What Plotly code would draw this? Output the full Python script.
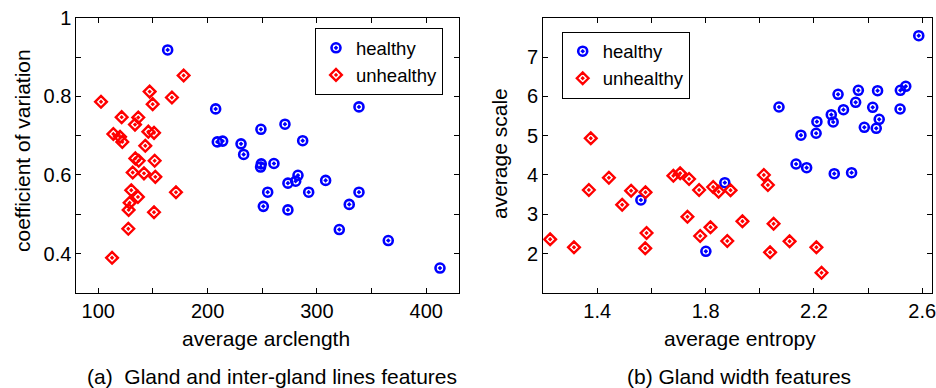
import plotly.graph_objects as go

# ---- Data: (a) Gland and inter-gland lines features ----
a_healthy_arclength = [163.5, 207.4, 338.5, 270.8, 248.8, 208.9, 213.8, 230.6, 287.0, 233.0,
                       249.1, 248.5, 260.7, 282.7, 280.6, 273.5, 308.0, 255.0, 292.5, 338.5,
                       329.6, 251.0, 273.5, 320.5, 365.3, 412.6]
a_healthy_cv = [0.918, 0.768, 0.773, 0.729, 0.716, 0.684, 0.686, 0.679, 0.687, 0.652,
                0.628, 0.620, 0.629, 0.599, 0.584, 0.579, 0.586, 0.556, 0.556, 0.556,
                0.525, 0.520, 0.511, 0.461, 0.433, 0.363]
a_unhealthy_arclength = [178.1, 147.0, 167.4, 102.5, 149.8, 121.4, 136.6, 133.6, 113.8, 119.9,
                         122.0, 145.8, 151.0, 143.0, 133.9, 137.0, 151.6, 131.5, 141.8, 152.2,
                         130.2, 136.3, 171.1, 128.7, 127.8, 151.0, 127.5, 112.6]
a_unhealthy_cv = [0.853, 0.812, 0.797, 0.786, 0.780, 0.747, 0.746, 0.728, 0.704, 0.697,
                  0.684, 0.710, 0.707, 0.674, 0.642, 0.636, 0.636, 0.606, 0.604, 0.595,
                  0.561, 0.544, 0.556, 0.529, 0.511, 0.505, 0.463, 0.389]

# ---- Data: (b) Gland width features ----
b_healthy_entropy = [1.561, 1.801, 1.871, 2.071, 2.134, 2.173, 2.275, 2.339, 2.152, 2.208,
                     2.211, 2.264, 2.271, 2.289, 2.309, 2.354, 2.364, 2.386, 2.417, 2.430,
                     2.435, 2.441, 2.518, 2.519, 2.539, 2.587]
b_healthy_scale = [3.361, 2.056, 3.802, 5.728, 4.277, 4.183, 4.031, 4.056, 5.010, 5.060,
                   5.354, 5.532, 5.346, 6.051, 5.659, 5.847, 6.153, 5.211, 5.720, 5.186,
                   6.143, 5.415, 5.677, 6.153, 6.254, 7.542]
b_unhealthy_entropy = [1.226, 1.314, 1.369, 1.376, 1.443, 1.492, 1.525, 1.578, 1.582, 1.577,
                       1.681, 1.706, 1.733, 1.739, 1.776, 1.780, 1.818, 1.828, 1.848, 1.880,
                       1.892, 1.936, 2.015, 2.030, 2.051, 2.038, 2.110, 2.209, 2.228]
b_unhealthy_scale = [2.361, 2.158, 3.616, 4.931, 3.929, 3.242, 3.598, 3.557, 2.522, 2.132,
                     3.980, 4.041, 2.936, 3.896, 3.616, 2.445, 2.667, 3.692, 3.573, 2.318,
                     3.608, 2.819, 3.997, 3.743, 2.758, 2.030, 2.310, 2.158, 1.511]

# ---- Tick definitions ----
a_xticks = [100, 150, 200, 250, 300, 350, 400]
a_xlabels = ["100", "", "200", "", "300", "", "400"]
a_yticks = [0.3, 0.4, 0.5, 0.6, 0.7, 0.8, 0.9, 1.0]
a_ylabels = ["", "0.4", "", "0.6", "", "0.8", "", "1"]
b_xticks = [1.4, 1.6, 1.8, 2.0, 2.2, 2.4, 2.6]
b_xlabels = ["1.4", "", "1.8", "", "2.2", "", "2.6"]
b_yticks = [2, 3, 4, 5, 6, 7]
b_ylabels = ["2", "3", "4", "5", "6", "7"]

W, H = 936, 388
FONT = "Liberation Sans, Arial, Helvetica, sans-serif"
BLUE = "#0000ff"
RED = "#ff0000"

fig = go.Figure()

def healthy_marker():
    return dict(symbol="circle-open-dot", size=9, color=BLUE, line=dict(color=BLUE, width=2.6))

def unhealthy_marker():
    return dict(symbol="diamond-open-dot", size=9, color=RED, line=dict(color=RED, width=2.4))

fig.add_trace(go.Scatter(x=a_healthy_arclength, y=a_healthy_cv, mode="markers", name="healthy",
                         marker=healthy_marker(), xaxis="x", yaxis="y", legend="legend"))
fig.add_trace(go.Scatter(x=a_unhealthy_arclength, y=a_unhealthy_cv, mode="markers", name="unhealthy",
                         marker=unhealthy_marker(), xaxis="x", yaxis="y", legend="legend"))
fig.add_trace(go.Scatter(x=b_healthy_entropy, y=b_healthy_scale, mode="markers", name="healthy",
                         marker=healthy_marker(), xaxis="x2", yaxis="y2", legend="legend2"))
fig.add_trace(go.Scatter(x=b_unhealthy_entropy, y=b_unhealthy_scale, mode="markers", name="unhealthy",
                         marker=unhealthy_marker(), xaxis="x2", yaxis="y2", legend="legend2"))

ydom = [1 - 292.8 / H, 1 - 17.7 / H]
axis_common = dict(showline=True, linecolor="black", linewidth=1, mirror="ticks",
                   ticks="inside", ticklen=5, tickwidth=1, tickcolor="black",
                   showgrid=False, zeroline=False, tickmode="array", automargin=False,
                   ticklabeloverflow="allow",
                   tickfont=dict(family=FONT, size=20, color="black"))

fig.update_layout(
    width=W, height=H, autosize=False,
    margin=dict(l=0, r=0, t=0, b=0, pad=0, autoexpand=False),
    paper_bgcolor="white", plot_bgcolor="white",
    font=dict(family=FONT, color="black"),
    xaxis=dict(domain=[76.4 / W, 459.0 / W], range=[80, 430], anchor="y",
               tickvals=a_xticks, ticktext=a_xlabels, **axis_common),
    yaxis=dict(domain=ydom, range=[0.3, 1.0], anchor="x",
               tickvals=a_yticks, ticktext=a_ylabels, **axis_common),
    xaxis2=dict(domain=[543.1 / W, 932.3 / W], range=[1.2, 2.637], anchor="y2",
                tickvals=b_xticks, ticktext=b_xlabels, **axis_common),
    yaxis2=dict(domain=ydom, range=[1, 8], anchor="x2",
                tickvals=b_yticks, ticktext=b_ylabels, **axis_common),
    legend=dict(x=315 / W, y=1 - 28.3 / H, xanchor="left", yanchor="top",
                bgcolor="white", bordercolor="black", borderwidth=1,
                font=dict(family=FONT, size=18.5, color="black"),
                itemwidth=30, tracegroupgap=0),
    legend2=dict(x=561.7 / W, y=1 - 31.7 / H, xanchor="left", yanchor="top",
                 bgcolor="white", bordercolor="black", borderwidth=1,
                 font=dict(family=FONT, size=18.5, color="black"),
                 itemwidth=30, tracegroupgap=0),
    showlegend=True,
)

def ann(text, px, py, angle=0, size=21):
    fig.add_annotation(text=text, xref="paper", yref="paper", x=px / W, y=1 - py / H,
                       xanchor="center", yanchor="middle", showarrow=False, textangle=angle,
                       font=dict(family=FONT, size=size, color="black"))

ann("average arclength", 265.7, 338)
ann("average entropy", 739.7, 338)
ann("coefficient of variation", 23, 151, angle=-90)
ann("average scale", 500, 154, angle=-90)
ann("(a)  Gland and inter-gland lines features", 271.6, 376.7)
ann("(b) Gland width features", 738.8, 376.7)

fig.write_html("out.html",
               config={"displayModeBar": False},
               post_script="document.body.style.margin='0';document.body.style.padding='0';"
                           "document.body.style.overflow='hidden';")
